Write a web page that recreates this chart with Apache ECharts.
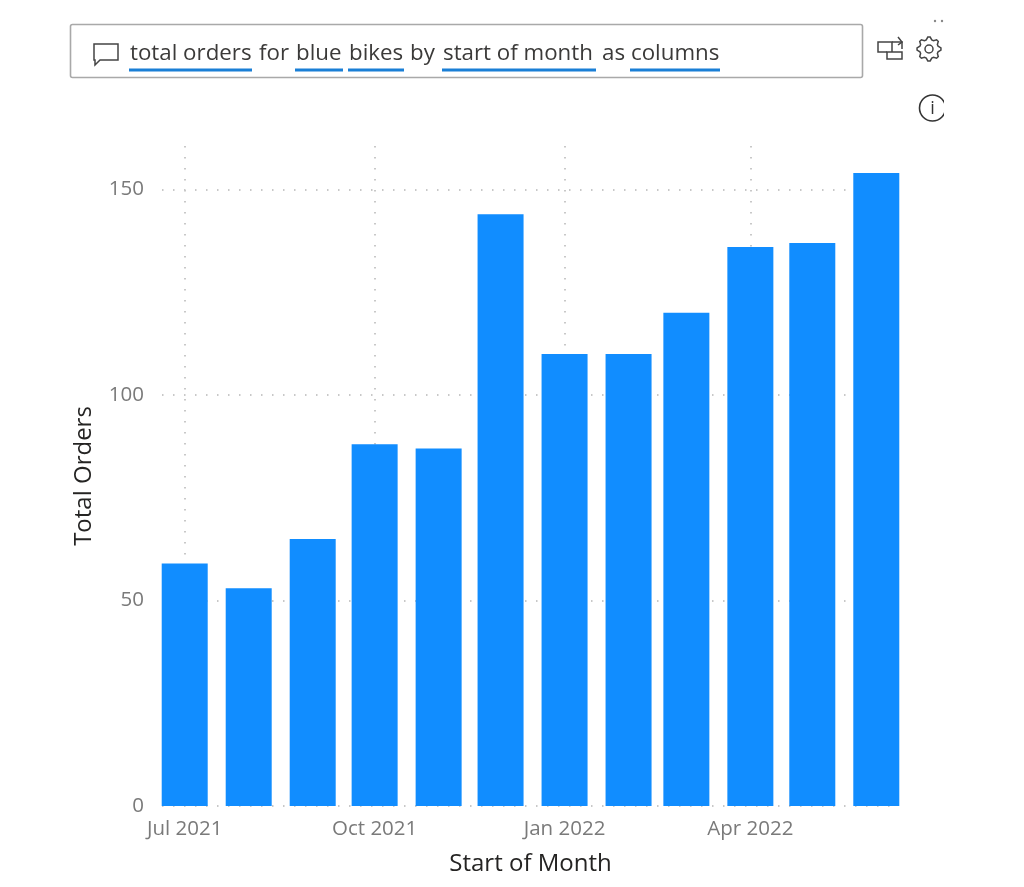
<!DOCTYPE html>
<html>
<head>
<meta charset="utf-8">
<title>Total Orders</title>
<style>
  html, body { margin: 0; padding: 0; background: #fff; }
  #chart { width: 1024px; height: 887px; }
</style>
<script src="https://cdn.jsdelivr.net/npm/echarts@6/dist/echarts.min.js"></script>
</head>
<body>
<div id="chart"></div>
<script>
var months = ['2021-07-01', '2021-08-01', '2021-09-01', '2021-10-01', '2021-11-01', '2021-12-01',
  '2022-01-01', '2022-02-01', '2022-03-01', '2022-04-01', '2022-05-01', '2022-06-01'];
var totalOrders = [59, 53, 65, 88, 87, 144, 110, 110, 120, 136, 137, 154];
var tickDates = ['2021-07-01', '2021-10-01', '2022-01-01', '2022-04-01'];
var tickLabels = ['Jul 2021', 'Oct 2021', 'Jan 2022', 'Apr 2022'];
var yTicks = [0, 50, 100, 150];

// words of the query box: text, left x, underlined or not
var queryWords = [
  ['total orders', 130, true], ['for', 259, false], ['blue', 296, true], ['bikes', 349, true],
  ['by', 410, false], ['start of month', 443, true], ['as', 602, false], ['columns', 631, true]
];

var font = '"Open Sans", "Noto Sans", sans-serif';

function toTime(d) { return +echarts.time.parse(d); }
var tickTimes = tickDates.map(toTime);

var chart = echarts.init(document.getElementById('chart'));

// gear outline for the settings icon
function gearPoints(cx, cy, r1, r2, teeth) {
  var pts = [];
  var n = teeth * 4;
  for (var i = 0; i < n; i++) {
    var a = (i - 0.5) / n * Math.PI * 2;
    var r = (i % 4 < 2) ? r2 : r1;
    pts.push([cx + r * Math.cos(a), cy + r * Math.sin(a)]);
  }
  return pts;
}

var iconStyle = { fill: 'none', stroke: '#444', lineWidth: 1.5 };

var graphics = [
  { type: 'rect', shape: { x: 70.5, y: 24.5, width: 792, height: 53, r: 2 },
    style: { fill: '#fff', stroke: '#a9a9a9', lineWidth: 1.6 } },
  // comment bubble
  { type: 'polygon', shape: { points: [[94, 44], [118, 44], [118, 60], [100, 60], [95, 65], [95, 60], [94, 60]] }, style: iconStyle },
  // share icon
  { type: 'polyline', shape: { points: [[887, 52], [878, 52], [878, 42], [892, 42], [892, 52]] }, style: iconStyle },
  { type: 'polygon', shape: { points: [[887, 52], [902, 52], [902, 59], [887, 59]] }, style: iconStyle },
  { type: 'polyline', shape: { points: [[892, 42], [902, 42], [902, 49]] }, style: iconStyle },
  { type: 'polyline', shape: { points: [[898, 37], [902, 42], [898, 45]] }, style: iconStyle },
  // settings gear
  { type: 'polygon', shape: { points: gearPoints(929, 49, 9.5, 12, 8) }, style: iconStyle },
  { type: 'circle', shape: { cx: 929, cy: 49, r: 4 }, style: iconStyle },
  // info icon, cut off on the right like the screenshot
  { type: 'circle', shape: { cx: 932.5, cy: 108, r: 13 }, style: { fill: 'none', stroke: '#333', lineWidth: 1.6 } },
  { type: 'text', style: { x: 932.5, y: 109, text: 'i', font: '18px ' + font, fill: '#333', align: 'center', verticalAlign: 'middle' } },
  { type: 'rect', shape: { x: 944, y: 90, width: 12, height: 36 }, style: { fill: '#fff' } },
  { type: 'circle', shape: { cx: 935, cy: 21, r: 1.2 }, style: { fill: '#888' } },
  { type: 'circle', shape: { cx: 942, cy: 21, r: 1.2 }, style: { fill: '#888' } }
];

var underlineEnds = { 'total orders': 252, 'blue': 343, 'bikes': 404, 'start of month': 596, 'columns': 720 };
queryWords.forEach(function (w) {
  graphics.push({ type: 'text', style: { x: w[1], y: 54, text: w[0], font: '22.3px ' + font, fill: '#3b3a39', verticalAlign: 'middle' } });
  if (w[2]) {
    graphics.push({ type: 'rect', shape: { x: w[1] - 1, y: 68.5, width: underlineEnds[w[0]] - w[1] + 1, height: 3 }, style: { fill: '#1a7fd6' } });
  }
});

var option = {
  animation: false,
  textStyle: { fontFamily: font },
  grid: { left: 162, right: 125, top: 146, bottom: 81, containLabel: false },
  xAxis: {
    // plain value axis on timestamps, so the ticks can stay quarterly
    type: 'value',
    min: toTime('2021-06-20'),
    max: toTime('2022-06-12'),
    name: 'Start of Month',
    nameLocation: 'middle',
    nameGap: 46,
    nameTextStyle: { fontSize: 24, color: '#252423', fontFamily: font },
    axisLine: { show: false },
    axisTick: { show: false, customValues: tickTimes },
    axisLabel: {
      customValues: tickTimes,
      fontSize: 20.5,
      color: '#7a7a7a',
      margin: 13,
      hideOverlap: false,
      formatter: function (v) { return tickLabels[tickTimes.indexOf(v)]; }
    },
    splitLine: { show: true, lineStyle: { color: '#c8c8c8', width: 2, type: [1.5, 9.5] } }
  },
  yAxis: {
    type: 'value',
    min: 0,
    max: 160.6,
    name: 'Total Orders',
    nameLocation: 'middle',
    nameGap: 66,
    nameTextStyle: { fontSize: 24, color: '#252423', fontFamily: font },
    axisLine: { show: false },
    axisTick: { show: false, customValues: yTicks },
    axisLabel: { customValues: yTicks, fontSize: 20.5, color: '#7a7a7a', margin: 18, padding: [3, 0, 0, 0] },
    splitLine: { show: true, lineStyle: { color: '#c8c8c8', width: 2, type: [1.5, 9.5] } }
  },
  series: [{
    name: 'Total Orders',
    type: 'bar',
    barWidth: 46,
    itemStyle: { color: '#118dff' },
    data: months.map(function (m, i) { return [toTime(m), totalOrders[i]]; })
  }],
  graphic: graphics
};

chart.setOption(option);
</script>
</body>
</html>
